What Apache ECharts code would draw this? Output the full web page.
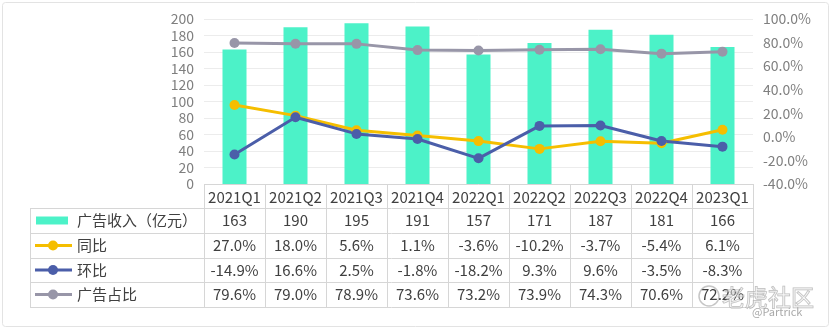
<!DOCTYPE html>
<html><head><meta charset="utf-8">
<script src="https://cdn.jsdelivr.net/npm/echarts@6/dist/echarts.min.js"></script>
<style>html,body{margin:0;padding:0;background:#fff}#c{width:831px;height:329px}</style>
</head><body><div id="c"></div>
<script>
const categories = ['2021Q1','2021Q2','2021Q3','2021Q4','2022Q1','2022Q2','2022Q3','2022Q4','2023Q1'];
const adRevenue = [163,190,195,191,157,171,187,181,166];
const yoy = [27.0,18.0,5.6,1.1,-3.6,-10.2,-3.7,-5.4,6.1];
const qoq = [-14.9,16.6,2.5,-1.8,-18.2,9.3,9.6,-3.5,-8.3];
const adShare = [79.6,79.0,78.9,73.6,73.2,73.9,74.3,70.6,72.2];
const seriesNames = ['广告收入（亿元）','同比','环比','广告占比'];

const C_BAR = '#4CF2C8', C_YOY = '#F5BE00', C_QOQ = '#4B5EA9', C_SHARE = '#9896A8';
const FONT = '"Noto Sans CJK SC", "Noto Sans", sans-serif';
const chart = echarts.init(document.getElementById('c'));
const lineStyleOf = (c) => ({type:'line', yAxisIndex:1, symbol:'circle', symbolSize:10,
  itemStyle:{color:c}, lineStyle:{color:c,width:3}, z:3});
chart.setOption({
  animation:false,
  grid:{left:204, right:78, top:19, bottom:145},
  xAxis:{type:'category', data:categories, axisLine:{show:false}, axisTick:{show:false}, axisLabel:{show:false}},
  yAxis:[
    {type:'value', min:0, max:200, interval:20, axisLabel:{color:'#7f7f7f', fontSize:14, fontFamily:FONT, margin:10},
     splitLine:{lineStyle:{color:'#ececec'}}, axisLine:{show:false}, axisTick:{show:false}},
    {type:'value', min:-40, max:100, interval:20, axisLabel:{color:'#7f7f7f', fontSize:14, fontFamily:FONT, margin:10,
      formatter:(v)=>v.toFixed(1)+'%'}, splitLine:{show:false}, axisLine:{show:false}, axisTick:{show:false}}
  ],
  series:[
    {name:seriesNames[0], type:'bar', data:adRevenue, barWidth:24, itemStyle:{color:C_BAR}},
    Object.assign({name:seriesNames[1], data:yoy}, lineStyleOf(C_YOY)),
    Object.assign({name:seriesNames[2], data:qoq}, lineStyleOf(C_QOQ)),
    Object.assign({name:seriesNames[3], data:adShare}, lineStyleOf(C_SHARE))
  ]
});

// Data table
const xs = categories.map(c => chart.convertToPixel({xAxisIndex:0}, c));
const colW = xs[1]-xs[0];
const tL = xs[0]-colW/2, tR = xs[xs.length-1]+colW/2;
const labelL = 30;
const rowY = [184, 208, 233, 258, 282, 307];
const BORDER = '#d6d6d6', TXT = '#404040';
const g = [];
const hline = (x1,x2,y) => g.push({type:'line', shape:{x1,y1:y+0.5,x2,y2:y+0.5}, style:{stroke:BORDER,lineWidth:1}, z:10});
const vline = (x,y1,y2) => g.push({type:'line', shape:{x1:Math.round(x)+0.5,y1,x2:Math.round(x)+0.5,y2}, style:{stroke:BORDER,lineWidth:1}, z:10});
hline(tL, tR, rowY[0]);
for (let i=1;i<rowY.length;i++) hline(labelL, tR, rowY[i]);
vline(labelL, rowY[1], rowY[5]);
for (let i=0;i<=categories.length;i++) vline(tL+i*colW, rowY[0], rowY[5]);
const txt = (x,y,t,align) => g.push({type:'text', x, y, style:{text:t, fill:TXT, font:'15px '+FONT, textAlign:align||'center', textVerticalAlign:'middle'}, z:11});
categories.forEach((c,i)=>txt(xs[i], (rowY[0]+rowY[1])/2+1, c));
const fmtPct = v => v.toFixed(1)+'%';
const rows = [adRevenue.map(String), yoy.map(fmtPct), qoq.map(fmtPct), adShare.map(fmtPct)];
rows.forEach((r,ri)=>{
  const yc = (rowY[ri+1]+rowY[ri+2])/2;
  r.forEach((t,i)=>txt(xs[i], yc, t));
  txt(77, yc, seriesNames[ri], 'left');
});
// legend keys
let yc = (rowY[1]+rowY[2])/2;
g.push({type:'rect', shape:{x:36,y:yc-4,width:32,height:8}, style:{fill:C_BAR}, z:11});
[C_YOY,C_QOQ,C_SHARE].forEach((c,k)=>{
  const y = (rowY[k+2]+rowY[k+3])/2;
  g.push({type:'line', shape:{x1:35,y1:y,x2:72,y2:y}, style:{stroke:c,lineWidth:3}, z:11});
  g.push({type:'circle', shape:{cx:53,cy:y,r:5}, style:{fill:c}, z:12});
});
// frame
g.push({type:'rect', shape:{x:2.5,y:2.5,width:826,height:324,r:3}, style:{fill:'none',stroke:'#e3e3e3',lineWidth:1}, z:0});
// watermark
g.push({type:'circle', shape:{cx:709,cy:296,r:10}, style:{fill:'none',stroke:'rgba(160,160,160,0.6)',lineWidth:1.5}, z:20});
g.push({type:'text', x:722, y:297, style:{text:'老虎社区', fill:'rgba(255,255,255,0.35)', stroke:'rgba(150,150,150,0.65)', lineWidth:1, font:'23px '+FONT, textVerticalAlign:'middle'}, z:20});
g.push({type:'text', x:752, y:312, style:{text:'@Partrick', fill:'rgba(160,160,160,0.9)', font:'11px '+FONT, textVerticalAlign:'middle'}, z:20});
chart.setOption({graphic:g});
</script></body></html>
